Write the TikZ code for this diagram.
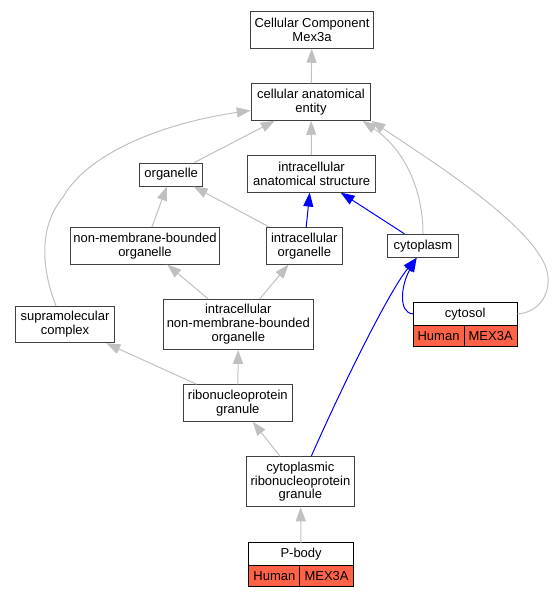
\documentclass[tikz,border=0pt]{standalone}
\usepackage{fontspec}
\setmainfont{Liberation Sans}
\usetikzlibrary{arrows.meta}
\definecolor{cellred}{HTML}{FF6347}
\definecolor{edgegray}{HTML}{C0C0C0}
\definecolor{edgeblue}{HTML}{0000FF}

\begin{document}
\begin{tikzpicture}[x=1pt, y=-1pt,
  term/.style={rectangle, draw=black!75, line width=1pt, fill=white, align=center,
    inner sep=1pt, font=\fontsize{13}{13.8}\selectfont},
  oneline/.style={term, minimum height=23pt},
  twoline/.style={term, minimum height=36.5pt},
  threeline/.style={term, minimum height=50pt},
  header/.style={term, draw=black, outer sep=0pt, minimum width=104.3pt, minimum height=22.3pt},
  cell/.style={rectangle, draw=black, line width=1pt, fill=cellred, inner sep=1pt, outer sep=0pt,
    minimum height=21.7pt, anchor=north west, font=\fontsize{13}{13.8}\selectfont},
  isa/.style={draw=edgegray, line width=1pt, -{Triangle[length=14pt,width=10pt]}},
  partof/.style={draw=edgeblue, line width=1pt, -{Triangle[length=14pt,width=10pt]}},
]
  \useasboundingbox (0,0) rectangle (555,597);

  \node[twoline, minimum width=123pt] (cc) at (312,30) {Cellular Component\\Mex3a};
  \node[twoline, minimum width=119.5pt] (cae) at (311,102) {cellular anatomical\\entity};
  \node[oneline, minimum width=63pt] (organelle) at (171.2,174.5) {organelle};
  \node[twoline, minimum width=128pt] (ias) at (311.6,173.8) {intracellular\\anatomical structure};
  \node[twoline, minimum width=149.5pt] (nmbo) at (145,245.8) {non-membrane-bounded\\organelle};
  \node[twoline, minimum width=76.5pt] (io) at (304.3,245.8) {intracellular\\organelle};
  \node[oneline, minimum width=70.6pt] (cytoplasm) at (423,245.8) {cytoplasm};
  \node[twoline, minimum width=99.5pt] (sc) at (65,324.5) {supramolecular\\complex};
  \node[threeline, minimum width=149.7pt] (inmbo) at (238.3,324.3) {intracellular\\non-membrane-bounded\\organelle};
  \node[header] (cytosol) at (465.2,313.9) {cytosol};
  \node[cell, minimum width=51pt] (cytosolH) at (cytosol.south west) {Human};
  \node[cell, minimum width=53.3pt] (cytosolM) at (cytosolH.north east) {MEX3A};
  \node[twoline, minimum width=109pt] (rnpg) at (237.8,403) {ribonucleoprotein\\granule};
  \node[threeline, minimum width=108.4pt] (crg) at (300.4,481.8) {cytoplasmic\\ribonucleoprotein\\granule};
  \node[header] (pbody) at (301.1,553.9) {P-body};
  \node[cell, minimum width=51pt] (pbodyH) at (pbody.south west) {Human};
  \node[cell, minimum width=53.2pt] (pbodyM) at (pbodyH.north east) {MEX3A};

  \draw[isa] (cae) -- (cc);
  \draw[isa] (organelle) -- (cae);
  \draw[isa] (ias) -- (cae);
  \draw[isa] ([xshift=-9pt]sc.north) .. controls (40,265) and (40,225) .. (63,197)
    .. controls (90,150) and (170,122) .. (cae.188);
  \draw[isa] (cytoplasm.north) .. controls (423,190) and (405,150) .. (cae.-20);
  \draw[isa] (cytosol.east) .. controls (540,313) and (555,290) .. (545,265)
    .. controls (525,220) and (430,160) .. (cae.south east);
  \draw[isa] (nmbo) -- (organelle);
  \draw[isa] (io) -- (organelle);
  \draw[partof] (io) -- (ias);
  \draw[partof] (cytoplasm) -- (ias);
  \draw[isa] (inmbo) -- (nmbo);
  \draw[isa] (inmbo) -- (io);
  \draw[partof] (cytosol.west) .. controls (398,313) and (401,285) .. (cytoplasm.242);
  \draw[partof] (crg.67) .. controls (345,380) and (390,290) .. (cytoplasm.242);
  \draw[isa] (rnpg) -- (sc);
  \draw[isa] (rnpg) -- (inmbo);
  \draw[isa] (crg) -- (rnpg);
  \draw[isa] (pbody) -- (crg);
\end{tikzpicture}
\end{document}
